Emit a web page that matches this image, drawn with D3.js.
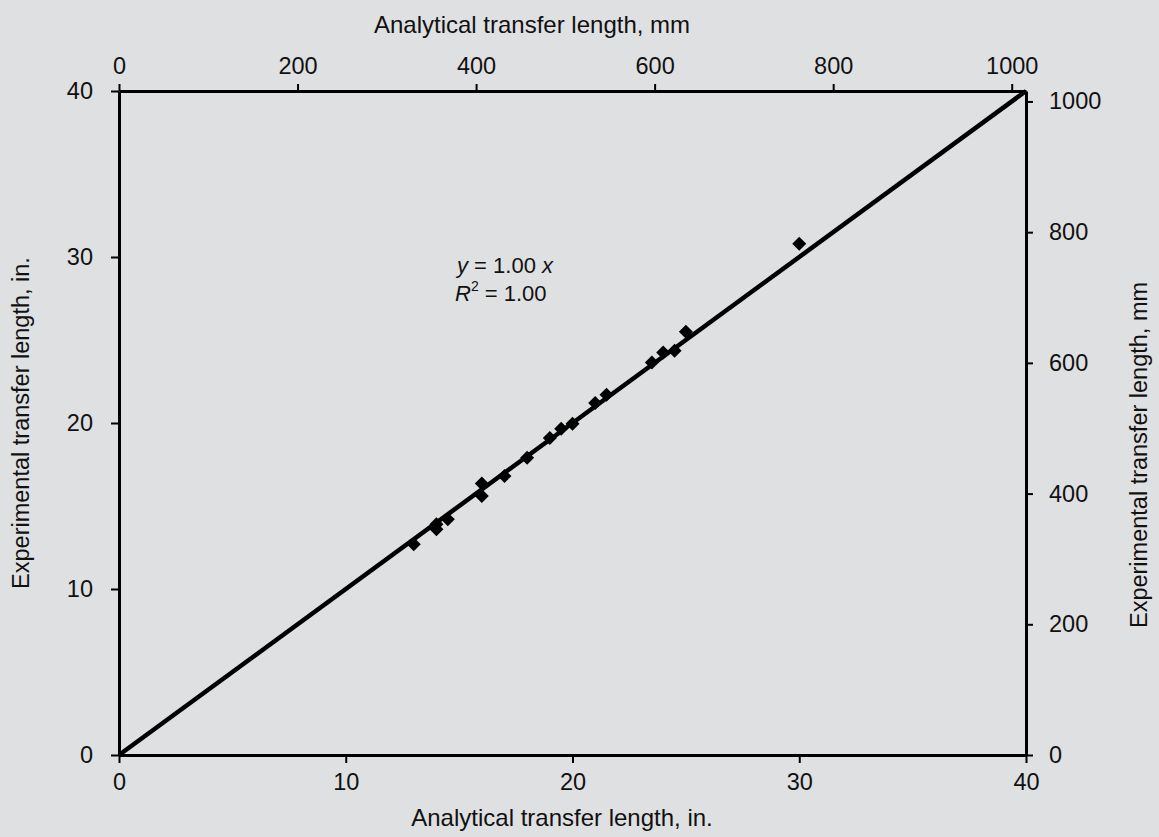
<!DOCTYPE html>
<meta charset="utf-8">
<style>
  body { margin: 0; background: #dfe0e2; }
  text { font-family: "Liberation Sans", Arial, sans-serif; fill: #111; }
</style>
<body>
</body>
<script src="https://d3js.org/d3.v7.min.js"></script>
<script>

// analytical (x) vs experimental (y) transfer length, in.
var analytical = [13, 14, 14, 14.5, 16, 16, 17, 18, 19, 19.5, 20, 21, 21.5, 23.5, 24, 24.5, 25, 30];
var experimental = [12.7, 13.9, 13.6, 14.2, 16.35, 15.6, 16.8, 17.9, 19.1, 19.65, 19.95, 21.2, 21.7, 23.65, 24.25, 24.35, 25.5, 30.8];
var inTicks = [0, 10, 20, 30, 40];
var mmTicks = [0, 200, 400, 600, 800, 1000];

var width = 1159, height = 837;
var margin = {top: 91, right: 133, bottom: 82, left: 119};

var svg = d3.select("body").append("svg")
  .attr("width", width)
  .attr("height", height);

var x = d3.scaleLinear().domain([0, 40]).range([margin.left, width - margin.right]);
var y = d3.scaleLinear().domain([0, 40]).range([height - margin.bottom, margin.top]);
// mm scales share the same pixels (1 in. = 25.4 mm)
var xmm = d3.scaleLinear().domain([0, 40 * 25.4]).range(x.range());
var ymm = d3.scaleLinear().domain([0, 40 * 25.4]).range(y.range());

function styleAxis(g) {
  g.attr("font-size", 23.5).attr("font-family", "Liberation Sans, Arial, sans-serif");
  g.select(".domain").attr("stroke", "#000").attr("stroke-width", 3);
  g.selectAll(".tick line").attr("stroke", "#000").attr("stroke-width", 2);
  g.selectAll(".tick text").attr("fill", "#111");
}

svg.append("g")
  .attr("transform", "translate(0," + y(0) + ")")
  .call(d3.axisBottom(x).tickValues(inTicks).tickSize(8).tickPadding(10).tickSizeOuter(0))
  .call(styleAxis);

svg.append("g")
  .attr("transform", "translate(" + x(0) + ",0)")
  .call(d3.axisLeft(y).tickValues(inTicks).tickSize(8).tickPadding(18).tickSizeOuter(0))
  .call(styleAxis);

svg.append("g")
  .attr("transform", "translate(0," + y(40) + ")")
  .call(d3.axisTop(xmm).tickValues(mmTicks).tickFormat(d3.format("d")).tickSize(7).tickPadding(10).tickSizeOuter(0))
  .call(styleAxis);

svg.append("g")
  .attr("transform", "translate(" + x(40) + ",0)")
  .call(d3.axisRight(ymm).tickValues(mmTicks).tickFormat(d3.format("d")).tickSize(7).tickPadding(16).tickSizeOuter(0))
  .call(styleAxis);

// fitted line y = x
svg.append("line")
  .attr("x1", x(0)).attr("y1", y(0))
  .attr("x2", x(40)).attr("y2", y(40))
  .attr("stroke", "#000")
  .attr("stroke-width", 4.5);

svg.append("g")
  .selectAll("path")
  .data(analytical)
  .enter()
  .append("path")
  .attr("transform", function(d, i){ return "translate(" + x(d) + "," + y(experimental[i]) + ")"; })
  .attr("d", "M0,-7L7,0L0,7L-7,0Z")
  .attr("fill", "#000");

// equation
var eq = svg.append("text").attr("font-size", 22).attr("x", 457).attr("y", 273);
eq.append("tspan").attr("font-style", "italic").text("y");
eq.append("tspan").text(" = 1.00 ");
eq.append("tspan").attr("font-style", "italic").text("x");

var r2 = svg.append("text").attr("font-size", 22).attr("x", 455).attr("y", 301);
r2.append("tspan").attr("font-style", "italic").text("R");
r2.append("tspan").attr("font-size", 14).attr("dy", -10).text("2");
r2.append("tspan").attr("dy", 10).text(" = 1.00");

// axis titles
svg.append("text").attr("x", 532).attr("y", 33).attr("text-anchor", "middle")
  .attr("font-size", 24).text("Analytical transfer length, mm");
svg.append("text").attr("x", 562).attr("y", 826).attr("text-anchor", "middle")
  .attr("font-size", 24).text("Analytical transfer length, in.");
svg.append("text").attr("transform", "translate(29,423) rotate(-90)").attr("text-anchor", "middle")
  .attr("font-size", 23.5).text("Experimental transfer length, in.");
svg.append("text").attr("transform", "translate(1147,455) rotate(-90)").attr("text-anchor", "middle")
  .attr("font-size", 23.5).text("Experimental transfer length, mm");

</script>
